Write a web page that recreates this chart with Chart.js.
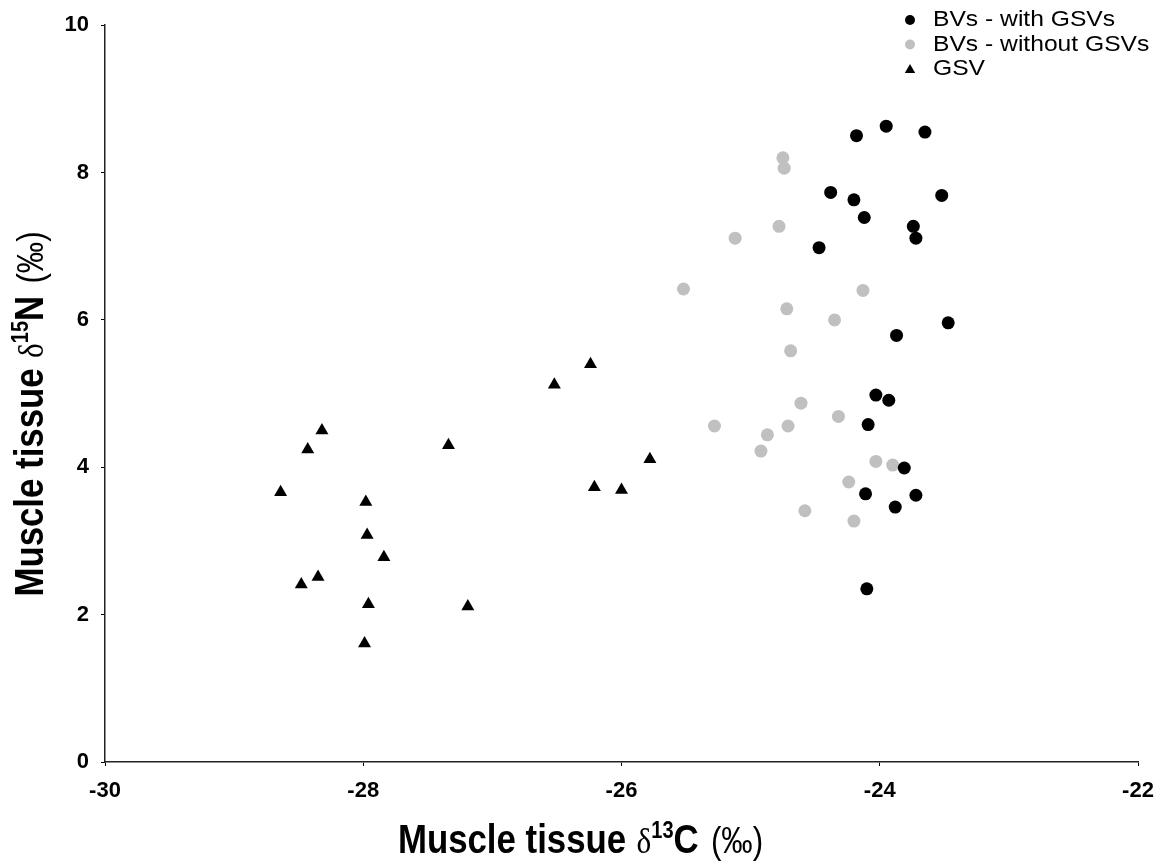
<!DOCTYPE html>
<html>
<head>
<meta charset="utf-8">
<title>Muscle tissue isotopes</title>
<script src="https://cdn.jsdelivr.net/npm/chart.js@4/dist/chart.umd.min.js"></script>
<style>
  html, body { margin: 0; padding: 0; background: #fff; }
  canvas { display: block; }
</style>
</head>
<body>
<canvas id="chart-isotopes" width="1166" height="867"></canvas>
<script>
// values (d13C, d15N)
const withGsvX = [-24.18, -23.95, -23.65, -24.38, -24.20, -24.12, -23.52, -23.74, -23.72, -24.47,
  -23.87, -23.47, -24.03, -23.93, -24.09, -23.81, -24.11, -23.72, -23.88, -24.10]
const withGsvY = [8.50, 8.63, 8.55, 7.73, 7.63, 7.39, 7.69, 7.27, 7.11, 6.98,
  5.79, 5.96, 4.98, 4.91, 4.58, 3.99, 3.64, 3.62, 3.46, 2.35]

const withoutGsvX = [-24.75, -24.74, -24.78, -25.12, -25.52, -24.13, -24.72, -24.35, -24.69, -24.61,
  -24.32, -25.28, -24.71, -24.87, -24.92, -24.03, -23.90, -24.24, -24.58, -24.20]
const withoutGsvY = [8.20, 8.06, 7.27, 7.11, 6.42, 6.40, 6.15, 6.00, 5.58, 4.87,
  4.69, 4.56, 4.56, 4.44, 4.22, 4.08, 4.03, 3.80, 3.41, 3.27]

const gsvX = [-26.24, -26.52, -28.32, -28.43, -27.34, -25.78, -26.21, -26.00, -28.64,
  -27.98, -27.97, -27.84, -28.35, -28.48, -27.96, -27.19, -27.99]
const gsvY = [5.40, 5.12, 4.50, 4.24, 4.30, 4.11, 3.73, 3.69, 3.66,
  3.53, 3.08, 2.78, 2.51, 2.41, 2.14, 2.11, 1.61]

const seriesLabels = ['BVs - with GSVs', 'BVs - without GSVs', 'GSV']

const xRange = [-30, -22]
const yRange = [0, 10]

const pairs = (xs, ys) => xs.map((x, i) => ({ x, y: ys[i] }))

const SANS = '"Liberation Sans", Arial, sans-serif'
const SERIF = '"Liberation Serif", "Times New Roman", serif'
const tickFont = { family: SANS, size: 22, weight: 'bold' }

// axis titles are mixed bold / normal / superscript, so they are drawn by hand
const xTitle = [
  { text: 'Muscle tissue', font: `bold 40px ${SANS}`, gap: 12 },
  { text: 'δ', font: `36px ${SERIF}` },
  { text: '13', font: `bold 23px ${SANS}`, dy: -15 },
  { text: 'C', font: `bold 40px ${SANS}`, gap: 4 },
  { text: ' (‰)', font: `36px ${SANS}` },
]
const yTitle = [
  { text: 'Muscle tissue', font: `bold 40px ${SANS}`, gap: 12 },
  { text: 'δ', font: `36px ${SERIF}` },
  { text: '15', font: `bold 23px ${SANS}`, dy: -15 },
  { text: 'N', font: `bold 40px ${SANS}`, gap: 4 },
  { text: ' (‰)', font: `36px ${SANS}` },
]

function drawRich(ctx, parts, squeeze) {
  let total = 0
  parts.forEach(p => {
    ctx.font = p.font
    p.w = ctx.measureText(p.text).width
    total += p.w + (p.gap || 0)
  })
  ctx.scale(squeeze, 1)
  let x = -total / 2
  parts.forEach(p => {
    ctx.font = p.font
    ctx.fillText(p.text, x, p.dy || 0)
    x += p.w + (p.gap || 0)
  })
}

function marker(ctx, style, x, y, r) {
  ctx.beginPath()
  if (style === 'triangle') {
    ctx.moveTo(x, y - r)
    ctx.lineTo(x + r * 0.866, y + r / 2)
    ctx.lineTo(x - r * 0.866, y + r / 2)
    ctx.closePath()
  } else {
    ctx.arc(x, y, r, 0, Math.PI * 2)
  }
  ctx.fill()
}

const extras = {
  id: 'extras',
  afterDraw(chart) {
    const ctx = chart.ctx
    const area = chart.chartArea

    ctx.save()
    ctx.fillStyle = '#000'
    ctx.textBaseline = 'alphabetic'
    ctx.translate((area.left + area.right) / 2 - 41, 853)
    drawRich(ctx, xTitle, 0.87)
    ctx.restore()

    ctx.save()
    ctx.fillStyle = '#000'
    ctx.translate(43, 414)
    ctx.rotate(-Math.PI / 2)
    drawRich(ctx, yTitle, 0.87)
    ctx.restore()

    // legend, top right
    chart.data.datasets.forEach((ds, i) => {
      const cy = 20 + i * 24.5
      ctx.save()
      ctx.fillStyle = ds.backgroundColor
      marker(ctx, ds.pointStyle, 910, cy + (ds.pointStyle === 'triangle' ? 1 : 0), ds.pointStyle === 'triangle' ? 6 : 5)
      ctx.fillStyle = '#000'
      ctx.font = `22px ${SANS}`
      ctx.textBaseline = 'middle'
      ctx.translate(933, cy)
      ctx.scale(1.12, 1)
      ctx.fillText(ds.label, 0, 0)
      ctx.restore()
    })
  },
}

const axisBase = {
  type: 'linear',
  grid: { drawOnChartArea: false, drawTicks: true, tickLength: 4, color: '#000', lineWidth: 1 },
  border: { display: true, color: '#222', width: 1.5 },
}

new Chart(document.getElementById('chart-isotopes').getContext('2d'), {
  type: 'scatter',
  data: {
    datasets: [{
      label: seriesLabels[0],
      data: pairs(withGsvX, withGsvY),
      pointStyle: 'circle',
      backgroundColor: '#000000',
      borderWidth: 0,
      pointRadius: 6.5,
    }, {
      label: seriesLabels[1],
      data: pairs(withoutGsvX, withoutGsvY),
      pointStyle: 'circle',
      backgroundColor: '#c0c0c0',
      borderWidth: 0,
      pointRadius: 6.5,
    }, {
      label: seriesLabels[2],
      data: pairs(gsvX, gsvY),
      pointStyle: 'triangle',
      backgroundColor: '#000000',
      borderWidth: 0,
      pointRadius: 7.5,
    }],
  },
  options: {
    responsive: false,
    animation: false,
    layout: { padding: { top: 25, right: 28, left: 0, bottom: 0 } },
    plugins: {
      legend: { display: false },
      tooltip: { enabled: false },
    },
    scales: {
      x: {
        ...axisBase,
        min: xRange[0],
        max: xRange[1],
        afterFit: scale => { scale.height = 105 },
        ticks: { stepSize: 2, font: tickFont, color: '#000', padding: 12 },
      },
      y: {
        ...axisBase,
        min: yRange[0],
        max: yRange[1],
        afterFit: scale => { scale.width = 105 },
        ticks: { stepSize: 2, font: tickFont, color: '#000', padding: 12 },
      },
    },
  },
  plugins: [extras],
})
</script>
</body>
</html>
